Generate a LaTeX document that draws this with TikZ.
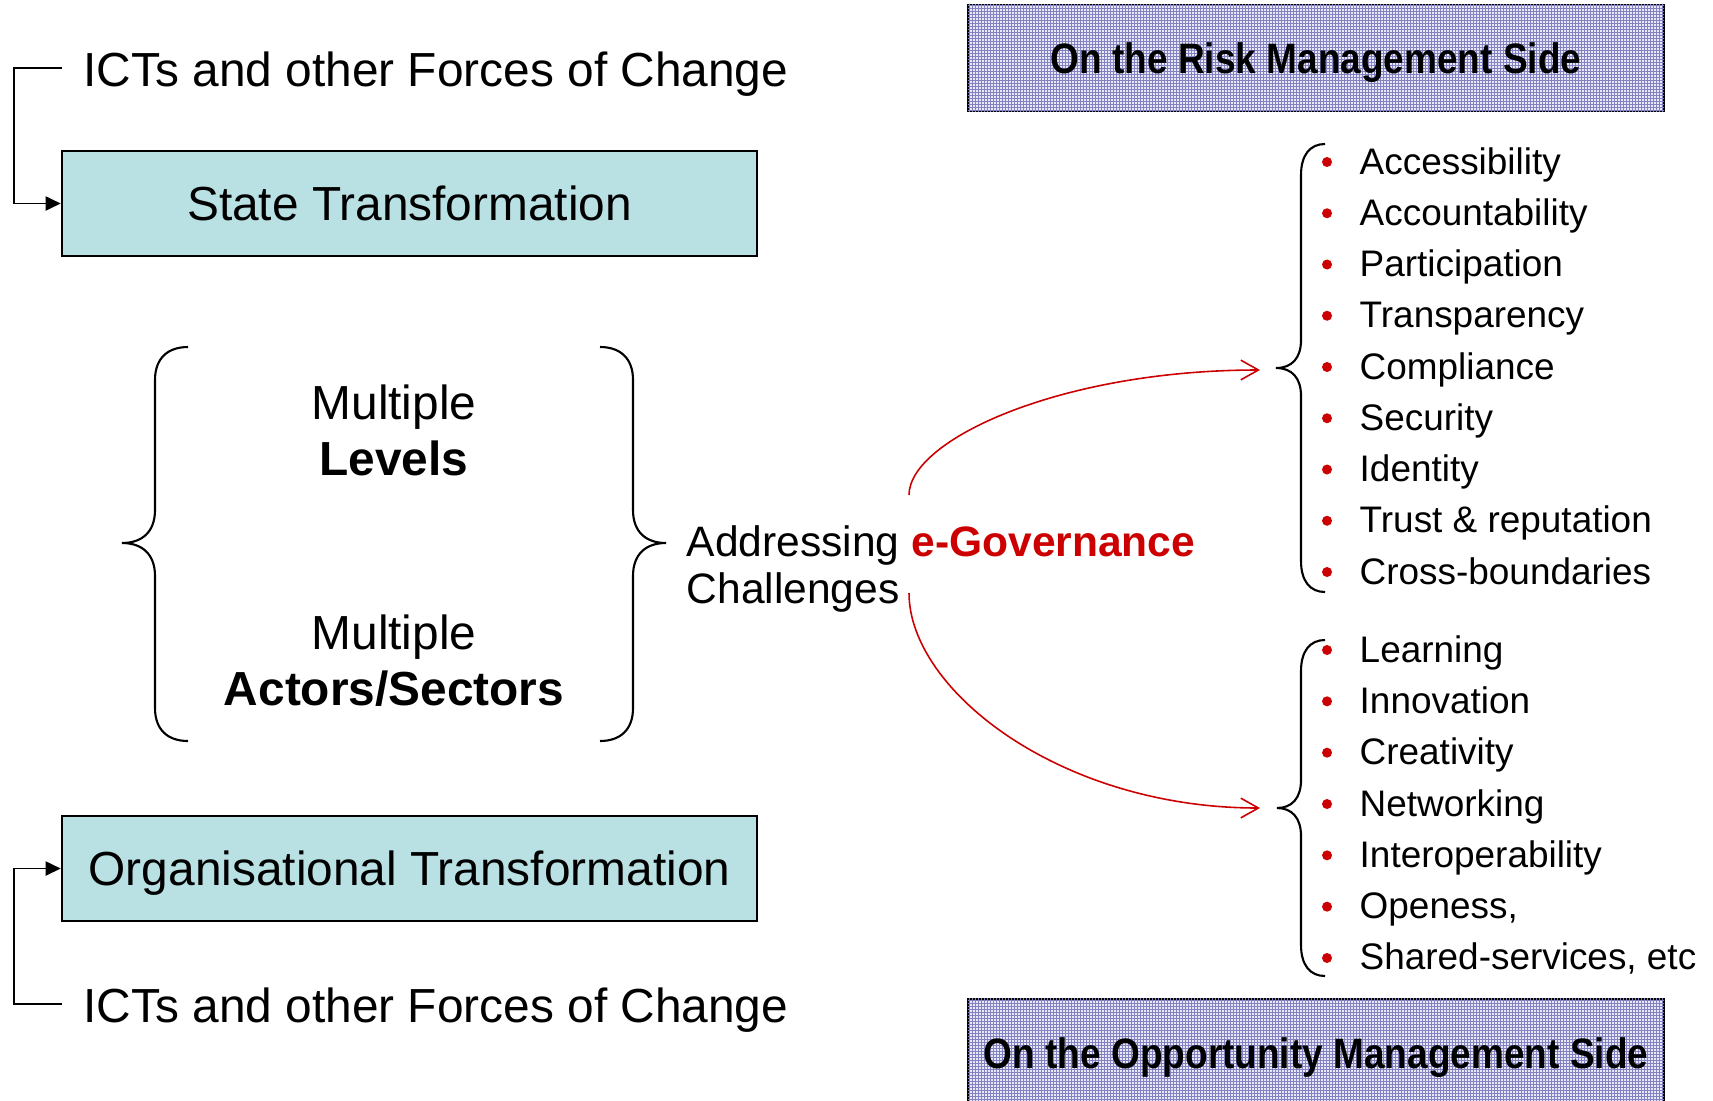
\documentclass[tikz,border=0pt]{standalone}
\usepackage{fontspec}
\setmainfont{Liberation Sans}
\newfontfamily\hdrfont[FakeStretch=0.87]{Liberation Sans}
\usetikzlibrary{arrows.meta,patterns.meta,calc}
\definecolor{boxteal}{RGB}{185,224,227}
\definecolor{egred}{RGB}{204,0,0}
\definecolor{hdrbase}{RGB}{232,232,246}
\definecolor{hdrgrid}{RGB}{130,130,195}
\tikzdeclarepattern{
  name=finegrid,
  type=uncolored,
  bounding box={(0pt,0pt) and (0.95pt,0.95pt)},
  tile size={(0.95pt,0.95pt)},
  code={
    \pgfsetlinewidth{0.25pt}
    \pgfpathmoveto{\pgfpoint{0pt}{0.475pt}}\pgfpathlineto{\pgfpoint{0.95pt}{0.475pt}}
    \pgfpathmoveto{\pgfpoint{0.475pt}{0pt}}\pgfpathlineto{\pgfpoint{0.475pt}{0.95pt}}
    \pgfusepath{stroke}
  }
}
\tikzset{
  transbox/.style={draw=black,line width=0.6pt,fill=boxteal,minimum width=6.95cm,minimum height=1.05cm,inner sep=0,text depth=0pt,font=\fontsize{13.6}{16}\selectfont},
  hdrbox/.style={draw=black,line width=0.7pt,fill=hdrbase,postaction={pattern=finegrid,pattern color=hdrgrid},minimum width=6.96cm,minimum height=1.06cm,inner sep=0},
  hdrtext/.style={inner sep=0,font=\hdrfont\bfseries\fontsize{12.1}{14}\selectfont},
  bigtext/.style={inner sep=0,font=\fontsize{13.6}{16}\selectfont},
  conn/.style={black,line width=0.55pt,-{Triangle[length=4.3pt,width=4pt]}},
  curly/.style={black,line width=0.6pt},
  redarrow/.style={egred,line width=0.45pt,-{Straight Barb[length=5pt,width=5.6pt]}},
  bulletdot/.style={circle,fill=egred,inner sep=0,minimum size=0.1cm},
  itemtext/.style={inner sep=0,anchor=base west,font=\fontsize{10.5}{12}\selectfont},
}
\begin{document}
\begin{tikzpicture}[x=0.01cm,y=-0.01cm]
\clip (0,0) rectangle (1713,1100);
\fill[white] (0,0) rectangle (1713,1100);

% left side
\node[bigtext,anchor=base west] (ict1) at (83,86) {ICTs and other Forces of Change};
\node[transbox] (st) at (409.5,203.5) {State Transformation};
\node[transbox] (ot) at (409.5,868.5) {Organisational Transformation};
\node[bigtext,anchor=base west] (ict2) at (83,1022) {ICTs and other Forces of Change};
\coordinate (c1) at (62,68);
\coordinate (c2) at (62,1004);
\draw[conn] (c1) -- ++(-48,0) |- (st.west);
\draw[conn] (c2) -- ++(-48,0) |- (ot.west);

% multiple levels / actors
\node[bigtext,align=center,font=\fontsize{13.6}{15.9}\selectfont] (lev) at (394,430) {Multiple\\\textbf{Levels}};
\node[bigtext,align=center,font=\fontsize{13.6}{15.9}\selectfont] (act) at (394,661) {Multiple\\\textbf{Actors/Sectors}};

% big braces
\coordinate (lbt) at (122,543);
\draw[curly] (188,347) .. controls (168,347) and (155,358) .. (155,380) -- (155,510)
  .. controls (155,532) and (142,543) .. (lbt)
  .. controls (142,543) and (155,554) .. (155,576) -- (155,708)
  .. controls (155,730) and (168,741) .. (188,741);
\coordinate (rbt) at (666,543);
\draw[curly] (600,347) .. controls (620,347) and (633,358) .. (633,380) -- (633,510)
  .. controls (633,532) and (646,543) .. (rbt)
  .. controls (646,543) and (633,554) .. (633,576) -- (633,708)
  .. controls (633,730) and (620,741) .. (600,741);

% addressing
\node[inner sep=0,anchor=west,align=left,font=\fontsize{12.1}{13.1}\selectfont] (addr) at (686,569)
  {Addressing {\color{egred}\bfseries e-Governance}\\Challenges};

% headers
\node[hdrbox] (rh) at (1316,58) {};
\node[hdrtext] (rhtext) at (1316,63) {On the Risk Management Side};
\node[hdrbox,minimum height=1.3cm] (oh) at (1316,1064) {};
\node[hdrtext] (ohtext) at (1316,1058) {On the Opportunity Management Side};

% small braces
\coordinate (tip1) at (1276,368);
\draw[curly] (1325,144) .. controls (1310,144) and (1301,155) .. (1301,175) -- (1301,340)
  .. controls (1301,358) and (1292,368) .. (tip1)
  .. controls (1292,368) and (1301,378) .. (1301,396) -- (1301,561)
  .. controls (1301,581) and (1310,592) .. (1325,592);
\coordinate (tip2) at (1277,808);
\draw[curly] (1325,640) .. controls (1310,640) and (1301,651) .. (1301,671) -- (1301,780)
  .. controls (1301,798) and (1292,808) .. (tip2)
  .. controls (1292,808) and (1301,818) .. (1301,836) -- (1301,945)
  .. controls (1301,965) and (1310,976) .. (1325,976);

% red arrows
\coordinate (g1) at (909,495);
\coordinate (g2) at (909,593);
\coordinate (a1) at (1260,370);
\coordinate (a2) at (1260,808);
\draw[redarrow] (g1) .. controls (909,440) and (1060,370) .. (a1);
\draw[redarrow] (g2) .. controls (909,690) and (1060,808) .. (a2);

% risk items
\foreach \t [count=\i from 0] in {Accessibility,Accountability,Participation,Transparency,Compliance,Security,Identity,Trust \& reputation,Cross-boundaries}{
  \node[bulletdot] (rb\i) at (1327,{162+51.25*\i}) {};
  \node[itemtext] (ri\i) at (1359,{174+51.25*\i}) {\t};
}
% opportunity items
\foreach \t [count=\i from 0] in {Learning,Innovation,Creativity,Networking,Interoperability,{Openess,},{Shared-services, etc}}{
  \node[bulletdot] (ob\i) at (1327,{650+51.33*\i}) {};
  \node[itemtext] (oi\i) at (1359,{662+51.33*\i}) {\t};
}
\end{tikzpicture}
\end{document}
